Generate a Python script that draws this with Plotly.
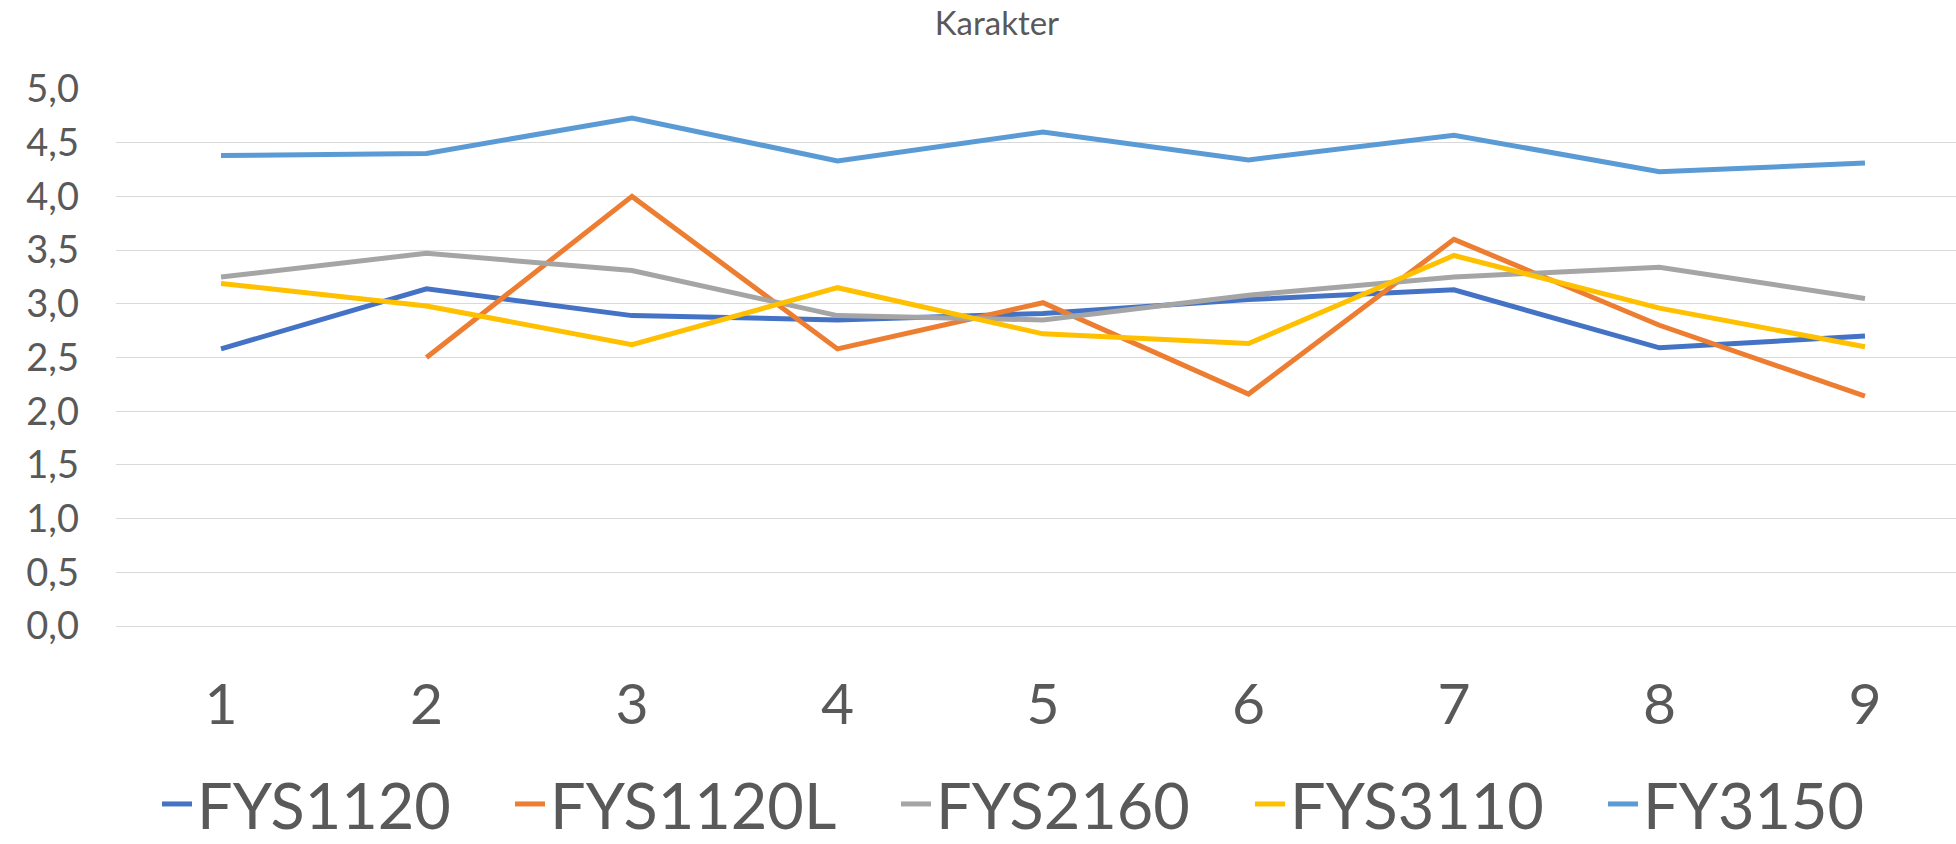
import plotly.graph_objects as go

categories = [1, 2, 3, 4, 5, 6, 7, 8, 9]
series_names = ["FYS1120", "FYS1120L", "FYS2160", "FYS3110", "FY3150"]
fys1120 = [2.58, 3.14, 2.89, 2.85, 2.91, 3.04, 3.13, 2.59, 2.70]
fys1120l = [None, 2.50, 4.00, 2.58, 3.01, 2.16, 3.60, 2.80, 2.14]
fys2160 = [3.25, 3.47, 3.31, 2.89, 2.85, 3.08, 3.25, 3.34, 3.05]
fys3110 = [3.19, 2.98, 2.62, 3.15, 2.72, 2.63, 3.45, 2.96, 2.60]
fy3150 = [4.38, 4.40, 4.73, 4.33, 4.60, 4.34, 4.57, 4.23, 4.31]
y_ticks = [0, 0.5, 1.0, 1.5, 2.0, 2.5, 3.0, 3.5, 4.0, 4.5, 5.0]

colors = ["#4472C4", "#ED7D31", "#A5A5A5", "#FFC000", "#5B9BD5"]
values = [fys1120, fys1120l, fys2160, fys3110, fy3150]

FONT = "Lato, Open Sans, sans-serif"
TXT = "#595959"

W, H = 1956, 844
L, R, T, B = 116, 0, 89, 218
plot_w = W - L - R
plot_h = H - T - B

legend_keys = ["legend", "legend2", "legend3", "legend4", "legend5"]
legend_px = [157, 510, 896, 1250, 1603]
legend_py = 804

fig = go.Figure()
for name, vals, col, lk in zip(series_names, values, colors, legend_keys):
    fig.add_trace(go.Scatter(
        x=categories, y=vals, name=name, mode="lines",
        line=dict(color=col, width=5),
        connectgaps=False, legend=lk,
    ))

layout_legends = {}
for lk, px in zip(legend_keys, legend_px):
    layout_legends[lk] = dict(
        x=(px - L) / plot_w, xanchor="left",
        y=(H - B - legend_py) / plot_h, yanchor="middle",
        orientation="h", bgcolor="rgba(0,0,0,0)",
        font=dict(family=FONT, size=63, color=TXT),
    )

fig.update_layout(
    width=W, height=H, autosize=False,
    margin=dict(l=L, r=R, t=T, b=B, autoexpand=False),
    paper_bgcolor="white", plot_bgcolor="white",
    separators=", ",
    font=dict(family=FONT, color=TXT),
    title=dict(text="Karakter", x=997 / W, xanchor="center", xref="container",
               y=1 - 12 / H, yanchor="top", yref="container",
               font=dict(family=FONT, size=33, color=TXT)),
    xaxis=dict(range=[0.489, 9.443], tickvals=categories,
               ticktext=[str(c) for c in categories],
               showgrid=False, zeroline=False, showline=False, ticks="",
               tickfont=dict(family=FONT, size=57, color=TXT),
               ticklabelstandoff=40),
    yaxis=dict(range=[0, 5], tickvals=y_ticks, tickformat=".1f",
               showgrid=True, gridcolor="#D9D9D9", gridwidth=1.4,
               zeroline=True, zerolinecolor="#D9D9D9", zerolinewidth=1.4,
               showline=False, ticks="",
               tickfont=dict(family=FONT, size=38, color=TXT),
               ticklabelstandoff=36),
    showlegend=True,
    **layout_legends,
)

fig.write_html("out.html", config={"displayModeBar": False},
               post_script="document.body.style.margin='0';")
